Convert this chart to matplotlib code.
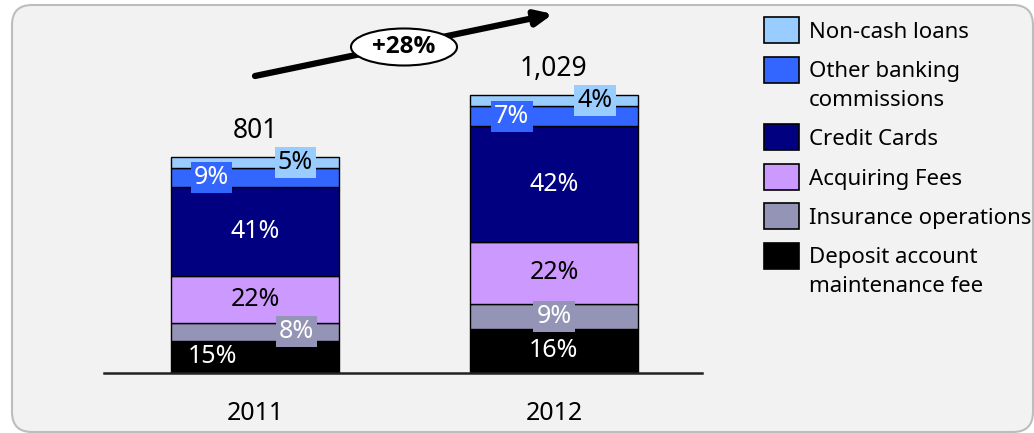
import numpy as np
import matplotlib.pyplot as plt
from matplotlib.patches import Ellipse, FancyBboxPatch, Rectangle
from matplotlib.transforms import IdentityTransform

plt.rcParams['font.family'] = ['Noto Sans', 'DejaVu Sans']

# fee income by type, shares in % (stacked bottom -> top)
years = ['2011', '2012']
totals = [801, 1029]
categories = ['Deposit account\nmaintenance fee', 'Insurance operations', 'Acquiring Fees',
              'Credit Cards', 'Other banking\ncommissions', 'Non-cash loans']
share_2011 = [15, 8, 22, 41, 9, 5]
share_2012 = [16, 9, 22, 42, 7, 4]
growth_label = '+28%'

colors = ['#000000', '#9494B6', '#CC99FF', '#000080', '#3366FF', '#99CCFF']
text_colors = ['white', 'white', 'black', 'white', 'white', 'black']
# horizontal nudge of each percentage label (pixels)
label_dx = [[-43, 41, 0, 0, -44, 40],
            [0, 0, 0, 0, -42, 41]]

W, H = 1034, 433
fig = plt.figure(figsize=(W / 100, H / 100), dpi=100)
fig.patch.set_facecolor('white')

# rounded grey panel behind everything
panel = FancyBboxPatch((12, 1), 1021, 427, boxstyle='round,pad=0,rounding_size=20',
                       transform=IdentityTransform(), facecolor='#F2F2F2',
                       edgecolor='#BDBDBD', lw=1.5, zorder=-10)
fig.add_artist(panel)

ax = fig.add_axes([104 / W, (H - 373) / H, 598 / W, 368 / H])
ax.set_facecolor('none')

px_per_unit = 0.27
x = np.arange(len(years))
bar_w = 0.563
ax.set_xlim(-0.5075, 1.496)
ax.set_ylim(0, 368 / px_per_unit)

shares = [share_2011, share_2012]
for i, (tot, sh) in enumerate(zip(totals, shares)):
    bottom = 0.0
    for j, pct in enumerate(sh):
        val = tot * pct / 100
        ax.bar(x[i], val, bar_w, bottom=bottom, color=colors[j],
               edgecolor='black', linewidth=1.0, zorder=2)
        ax.annotate(f'{pct}%', (x[i], bottom + val / 2), xytext=(label_dx[i][j] * 0.72, 0),
                    textcoords='offset points', ha='center', va='center',
                    fontsize=18, color=text_colors[j], zorder=4,
                    bbox=dict(boxstyle='square,pad=0.12', facecolor=colors[j],
                              edgecolor='none'))
        bottom += val
    ax.annotate(f'{tot:,}', (x[i], tot), xytext=(0, 13.5), textcoords='offset points',
                ha='center', va='baseline', fontsize=19)

ax.set_xticks(x)
ax.set_xticklabels(years, fontsize=18)
ax.tick_params(axis='x', length=0, pad=20)
ax.set_yticks([])
for s in ['top', 'right', 'left']:
    ax.spines[s].set_visible(False)
ax.spines['bottom'].set_linewidth(1.8)
ax.spines['bottom'].set_color('#222222')

# growth arrow with ellipse badge
ax.annotate('', xy=(553, H - 14), xytext=(255, H - 76), xycoords='figure pixels',
            textcoords='figure pixels',
            arrowprops=dict(arrowstyle='-|>,head_length=1.0,head_width=0.45',
                            lw=4.5, color='black', shrinkA=0, shrinkB=0))
badge = Ellipse((404, H - 47), 106, 37, transform=IdentityTransform(),
                facecolor='white', edgecolor='black', lw=1.5, zorder=5)
fig.add_artist(badge)
fig.text(404 / W, (H - 47) / H, growth_label, ha='center', va='center',
         fontsize=17.5, fontweight='bold', family=['Open Sans', 'DejaVu Sans'], zorder=6)

# legend, top entry first
yc = 30
for j in range(len(categories) - 1, -1, -1):
    patch = Rectangle((764, H - yc - 13), 35, 26, transform=IdentityTransform(),
                      facecolor=colors[j], edgecolor='black', lw=1.2)
    fig.add_artist(patch)
    lines = categories[j].split('\n')
    for k, line in enumerate(lines):
        fig.text(809 / W, (H - yc - 8 - 28 * k) / H, line, ha='left', va='baseline',
                 fontsize=16)
    yc += 39.5 + 28 * (len(lines) - 1)

fig.savefig('out.png', dpi=100)
